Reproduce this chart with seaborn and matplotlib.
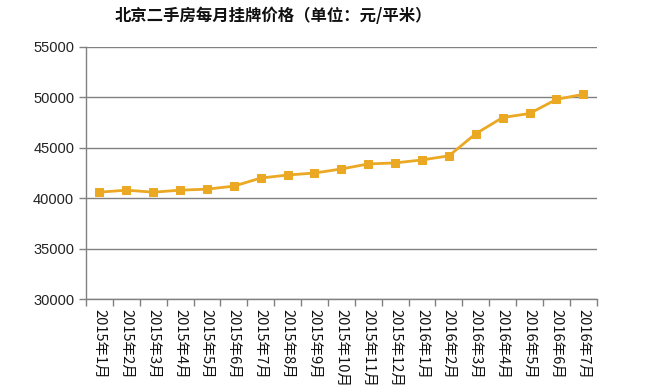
import numpy as np
import pandas as pd
import matplotlib
matplotlib.use("Agg")
import matplotlib.pyplot as plt
import seaborn as sns

# ===================== data =====================
months = ["2015年1月", "2015年2月", "2015年3月", "2015年4月", "2015年5月",
          "2015年6月", "2015年7月", "2015年8月", "2015年9月", "2015年10月",
          "2015年11月", "2015年12月", "2016年1月", "2016年2月", "2016年3月",
          "2016年4月", "2016年5月", "2016年6月", "2016年7月"]
prices = [40600, 40800, 40600, 40800, 40900, 41200, 42000, 42300, 42500, 42900,
          43400, 43500, 43800, 44200, 46400, 48000, 48400, 49800, 50300]
y_ticks = [30000, 35000, 40000, 45000, 50000, 55000]
title = "北京二手房每月挂牌价格（单位：元/平米）"

sns.set_theme(style="white")
plt.rcParams['font.family'] = ['Liberation Sans', 'Noto Sans CJK SC', 'DejaVu Sans']

df = pd.DataFrame({"month": months, "price": prices})
df["idx"] = np.arange(len(months))

fig = plt.figure(figsize=(6.49, 3.91), dpi=100)
ax = fig.add_axes([0.1325, 0.235, 0.787, 0.645])

line_color = "#EBA823"
sns.lineplot(data=df, x="idx", y="price", ax=ax, color=line_color, linewidth=2.0,
             marker="s", markersize=6, markeredgecolor=line_color, legend=False)

ax.set_xlim(-0.5, len(months) - 0.5)
ax.set_ylim(y_ticks[0], y_ticks[-1])
ax.set_yticks(y_ticks)
ax.set_yticklabels([str(v) for v in y_ticks], fontsize=10.5, color="#222222")
ax.yaxis.grid(True, color="#808080", linewidth=1)
ax.xaxis.grid(False)

# category labels at centers, tick marks at boundaries
ax.set_xticks(df["idx"])
ax.set_xticklabels(months, rotation=-90, fontsize=10.5, color="#111111",
                   family=['Noto Sans CJK SC', 'DejaVu Sans'])
ax.tick_params(axis="x", which="major", length=0, pad=7)
ax.set_xticks(np.arange(-0.5, len(months)), minor=True)
ax.tick_params(axis="x", which="minor", length=5, color="#808080", width=1,
               direction="out", bottom=True)
ax.tick_params(axis="y", length=5, color="#808080", width=1, direction="out", left=True)

for s in ["top", "right"]:
    ax.spines[s].set_visible(False)
for s in ["left", "bottom"]:
    ax.spines[s].set_color("#808080")
    ax.spines[s].set_linewidth(1)

ax.set_xlabel("")
ax.set_ylabel("")

fig.text(0.421, 0.958, title, ha="center", va="center", fontsize=11.8, fontweight="bold",
         family=['Noto Sans CJK SC', 'DejaVu Sans'], color="#111111")

fig.savefig("out.png", dpi=100, facecolor="white")
